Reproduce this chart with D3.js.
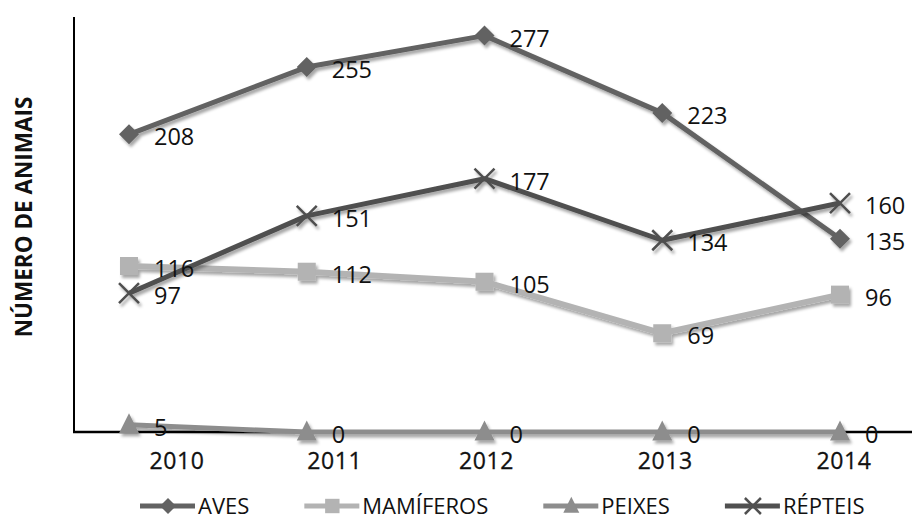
<!DOCTYPE html>
<html>
<head>
<meta charset="utf-8">
<script src="https://cdn.jsdelivr.net/npm/d3@7"></script>
<style>
  body { margin: 0; background: #fff; }
  svg { display: block; font-family: "Open Sans", sans-serif; }
</style>
</head>
<body>
<div id="chart"></div>
<script>
var years = ["2010", "2011", "2012", "2013", "2014"];
var seriesNames = ["AVES", "MAMÍFEROS", "PEIXES", "RÉPTEIS"];
var aves = [208, 255, 277, 223, 135];
var mamiferos = [116, 112, 105, 69, 96];
var peixes = [5, 0, 0, 0, 0];
var repteis = [97, 151, 177, 134, 160];
var yTitle = "NÚMERO DE ANIMAIS";

var width = 912,
  height = 517;

var series = [
  { name: seriesNames[0], values: aves, color: "#626262", marker: "diamond", lw: 5 },
  { name: seriesNames[1], values: mamiferos, color: "#b3b3b3", marker: "square", lw: 6 },
  { name: seriesNames[2], values: peixes, color: "#8d8d8d", marker: "triangle", lw: 5 },
  { name: seriesNames[3], values: repteis, color: "#505050", marker: "x", lw: 5 }
];

var svg = d3.select("#chart").append("svg")
  .attr("width", width)
  .attr("height", height);

var defs = svg.append("defs");
var f = defs.append("filter").attr("id", "shadow")
  .attr("x", "-10%").attr("y", "-10%").attr("width", "130%").attr("height", "140%");
f.append("feDropShadow")
  .attr("dx", 2).attr("dy", 3).attr("stdDeviation", 1.8)
  .attr("flood-color", "#000").attr("flood-opacity", 0.35);

var x = d3.scalePoint()
  .domain(years)
  .range([129, 840]);

var y = d3.scaleLinear()
  .domain([0, 290])
  .range([432, 17]);

// axes (plain lines, no ticks)
svg.append("line")
  .attr("x1", 74).attr("x2", 74)
  .attr("y1", y(290)).attr("y2", y(0))
  .attr("stroke", "#000").attr("stroke-width", 2);
svg.append("line")
  .attr("x1", 73).attr("x2", width)
  .attr("y1", y(0)).attr("y2", y(0))
  .attr("stroke", "#000").attr("stroke-width", 2.5);

// category labels (shifted like in the original picture)
var tickShift = [48, 28, 2, 3, 4];
svg.append("g").selectAll("text")
  .data(years)
  .join("text")
    .attr("x", function(d, i) { return x(d) + tickShift[i]; })
    .attr("y", 469)
    .attr("text-anchor", "middle")
    .attr("font-size", 23)
    .attr("letter-spacing", 0.6)
    .attr("fill", "#111")
    .attr("stroke", "#111")
    .attr("stroke-width", 0.3)
    .text(function(d) { return d; });

svg.append("text")
  .attr("transform", "translate(32,217) rotate(-90)")
  .attr("text-anchor", "middle")
  .attr("font-size", 22.5)
  .attr("font-weight", "bold")
  .attr("fill", "#111")
  .text(yTitle);

function drawMarker(g, type, color, s) {
  if (type === "diamond") {
    g.append("path")
      .attr("d", "M0," + (-s) + "L" + s + ",0L0," + s + "L" + (-s) + ",0Z")
      .attr("fill", color);
  } else if (type === "square") {
    g.append("rect")
      .attr("x", -s * 0.9).attr("y", -s * 0.9)
      .attr("width", s * 1.8).attr("height", s * 1.8)
      .attr("fill", color);
  } else if (type === "triangle") {
    g.append("path")
      .attr("d", "M0," + (-s * 1.15) + "L" + s + "," + (s * 0.85) + "L" + (-s) + "," + (s * 0.85) + "Z")
      .attr("fill", color);
  } else {
    g.append("path")
      .attr("d", "M" + (-s) + "," + (-s) + "L" + s + "," + s + "M" + s + "," + (-s) + "L" + (-s) + "," + s)
      .attr("stroke", color)
      .attr("stroke-width", 2.5)
      .attr("fill", "none");
  }
}

var line = d3.line()
  .x(function(d, i) { return x(years[i]); })
  .y(function(d) { return y(d); });

series.forEach(function(s) {
  var g = svg.append("g").attr("filter", "url(#shadow)");
  g.append("path")
    .datum(s.values)
    .attr("fill", "none")
    .attr("stroke", s.color)
    .attr("stroke-width", s.lw)
    .attr("stroke-linejoin", "round")
    .attr("d", line);
  s.values.forEach(function(v, i) {
    var m = g.append("g").attr("transform", "translate(" + x(years[i]) + "," + y(v) + ")");
    drawMarker(m, s.marker, s.color, 10);
  });
});

// data labels
series.forEach(function(s) {
  svg.append("g").selectAll("text")
    .data(s.values)
    .join("text")
      .attr("x", function(d, i) { return x(years[i]) + 25; })
      .attr("y", function(d) { return y(d) + 11; })
      .attr("font-size", 23.5)
      .attr("fill", "#111")
      .text(function(d) { return d; });
});

// legend
var lx = 140,
  ly = 506;
series.forEach(function(s) {
  var g = svg.append("g").attr("transform", "translate(" + lx + "," + ly + ")");
  g.append("line")
    .attr("x1", 0).attr("x2", 55)
    .attr("stroke", s.color)
    .attr("stroke-width", 5);
  drawMarker(g.append("g").attr("transform", "translate(28,0)"), s.marker, s.color, 8);
  var t = g.append("text")
    .attr("x", 58)
    .attr("y", 8)
    .attr("font-size", 22)
    .attr("fill", "#111")
    .text(s.name);
  lx += 58 + t.node().getComputedTextLength() + 55;
});
</script>
</body>
</html>
